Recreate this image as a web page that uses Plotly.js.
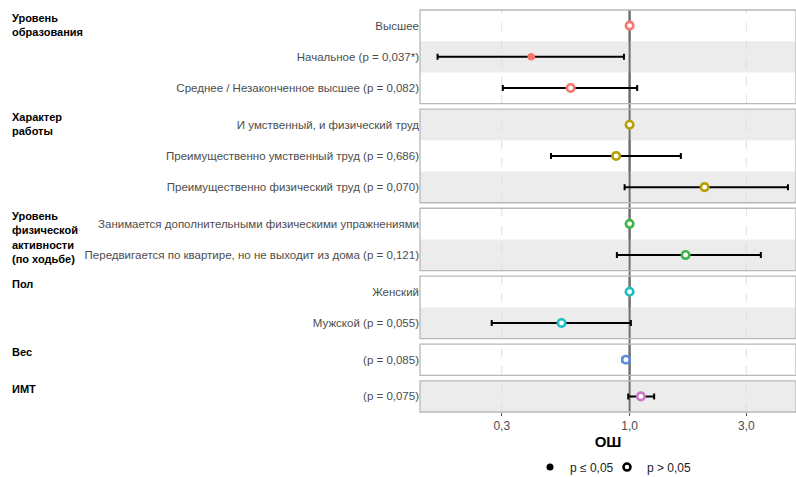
<!DOCTYPE html>
<html><head><meta charset="utf-8">
<script src="https://cdn.plot.ly/plotly-3.0.1.min.js"></script>
<style>html,body{margin:0;padding:0;background:#fff}#chart{width:796px;height:477px}</style>
</head><body><div id="chart"></div>
<script>
const groupTitles = ["Уровень<br>образования", "Характер<br>работы", "Уровень<br>физической<br>активности<br>(по ходьбе)", "Пол", "Вес", "ИМТ"];
const groupColors = ["#F8766D", "#B79F00", "#3DB54A", "#1EBFC4", "#5E8FD8", "#C77CC4"];
const rowGroup = [0, 0, 0, 1, 1, 1, 2, 2, 3, 3, 4, 5];
const rowLabels = [
  "Высшее",
  "Начальное (p = 0,037*)",
  "Среднее / Незаконченное высшее (p = 0,082)",
  "И умственный, и физический труд",
  "Преимущественно умственный труд (p = 0,686)",
  "Преимущественно физический труд (p = 0,070)",
  "Занимается дополнительными физическими упражнениями",
  "Передвигается по квартире, но не выходит из дома (p = 0,121)",
  "Женский",
  "Мужской (p = 0,055)",
  "(p = 0,085)",
  "(p = 0,075)"
];
const oddsRatio = [1, 0.396, 0.574, 1, 0.881, 2.026, 1, 1.694, 1, 0.527, 0.966, 1.112];
const ciLower   = [null, 0.164, 0.303, null, 0.477, 0.954, null, 0.887, null, 0.273, 0.935, 0.987];
const ciUpper   = [null, 0.948, 1.074, null, 1.62, 4.44, null, 3.44, null, 1.012, 0.995, 1.26];
const pValues   = [null, 0.037, 0.082, null, 0.686, 0.070, null, 0.121, null, 0.055, 0.085, 0.075];
const xTickVals = [0.3, 1, 3];
const xTickText = ["0,3", "1,0", "3,0"];
const legendLabels = ["p ≤ 0,05", "p > 0,05"];
const xAxisTitle = "ОШ";

const FONT = "Liberation Sans, Arial, sans-serif";
const nGroups = groupTitles.length;
const plotHpx = 402, gapPx = 5.5;
const gapFrac = gapPx / plotHpx;
const rowFrac = (1 - (nGroups - 1) * gapFrac) / rowGroup.length;

const legendBase = {orientation: "h", xanchor: "left", y: -0.137, yanchor: "middle",
  font: {size: 12, color: "#222"}, bgcolor: "rgba(0,0,0,0)"};

const layout = {
  width: 796, height: 477,
  margin: {l: 420, r: 0, t: 10, b: 65, autoexpand: false},
  paper_bgcolor: "#fff", plot_bgcolor: "rgba(0,0,0,0)",
  font: {family: FONT, size: 11, color: "#4d4d4d"},
  showlegend: true,
  legend: Object.assign({}, legendBase, {x: (530 - 420) / 376}),
  legend2: Object.assign({}, legendBase, {x: (607 - 420) / 376}),
  xaxis: {
    type: "log", range: [Math.log10(0.139), Math.log10(4.79)], anchor: "y6",
    tickmode: "array", tickvals: xTickVals, ticktext: xTickText,
    showgrid: false, zeroline: false, showline: false,
    ticks: "outside", ticklen: 3, tickcolor: "#555", tickwidth: 1,
    tickfont: {size: 12, color: "#4d4d4d"},
    title: {text: "<b>" + xAxisTitle + "</b>", font: {size: 15, color: "#000"}, standoff: 4},
    fixedrange: true
  },
  shapes: [], annotations: []
};

const traces = [];
let domTop = 1;
let globalRow = 0;
for (let g = 0; g < nGroups; g++) {
  const idx = [];
  rowGroup.forEach((gg, i) => { if (gg === g) idx.push(i); });
  const n = idx.length;
  const dom = [Math.max(0, domTop - n * rowFrac), domTop];
  domTop -= n * rowFrac + gapFrac;
  const axName = g === 0 ? "yaxis" : "yaxis" + (g + 1);
  const yref = g === 0 ? "y" : "y" + (g + 1);
  layout[axName] = {
    domain: dom, anchor: "x", range: [n - 0.5, -0.5],
    tickmode: "array", tickvals: idx.map((_, k) => k), ticktext: idx.map(i => rowLabels[i]),
    showgrid: false, zeroline: false, showline: false, ticks: "",
    tickfont: {size: 11.5, color: "#4d4d4d"}, fixedrange: true
  };
  idx.forEach((i, k) => {
    if ((globalRow + k) % 2 === 1) {
      layout.shapes.push({type: "rect", xref: "x domain", x0: 0, x1: 1, yref: yref,
        y0: k - 0.5, y1: k + 0.5, fillcolor: "#EBECEB", line: {width: 0}, layer: "below"});
    }
  });
  globalRow += n;
  xTickVals.forEach(v => {
    if (v !== 1) {
      layout.shapes.push({type: "line", xref: "x", x0: v, x1: v, yref: yref + " domain", y0: 0, y1: 1,
        line: {color: "#dedede", width: 1, dash: "dash"}, layer: "below"});
    }
  });
  layout.shapes.push({type: "line", xref: "x", x0: 1, x1: 1, yref: yref + " domain", y0: 0, y1: 1,
    line: {color: "#707070", width: 2}, layer: "below"});
  layout.shapes.push({type: "rect", xref: "x domain", x0: 0, x1: 1, yref: yref + " domain", y0: 0, y1: 1,
    line: {color: "#b8b8b8", width: 1.3}, fillcolor: "rgba(0,0,0,0)", layer: "above"});
  layout.annotations.push({text: "<b>" + groupTitles[g] + "</b>", xref: "paper", x: (10 - 420) / 376,
    xanchor: "left", yref: yref + " domain", y: 1, yanchor: "top", align: "left", showarrow: false,
    font: {size: 11, color: "#000", family: FONT}});
  const sig = idx.map(i => pValues[i] !== null && pValues[i] <= 0.05);
  traces.push({
    type: "scatter", mode: "markers", xaxis: "x", yaxis: yref, showlegend: false,
    x: idx.map(i => oddsRatio[i]), y: idx.map((_, k) => k),
    error_x: {type: "data", symmetric: false,
      array: idx.map(i => ciUpper[i] === null ? NaN : ciUpper[i] - oddsRatio[i]),
      arrayminus: idx.map(i => ciLower[i] === null ? NaN : oddsRatio[i] - ciLower[i]),
      color: "#000", thickness: 2, width: 3},
    marker: {symbol: "circle", size: 7.5,
      color: sig.map(s => s ? groupColors[g] : "#fff"),
      line: {color: groupColors[g], width: sig.map(s => s ? 0 : 2.6)}},
    hoverinfo: "skip"
  });
}
layout.shapes.unshift({type: "line", xref: "x", x0: 1, x1: 1, yref: "paper", y0: 0, y1: 1,
  line: {color: "#707070", width: 2}, layer: "below"});

traces.push({type: "scatter", mode: "markers", x: [null], y: [null], xaxis: "x", yaxis: "y6",
  legend: "legend", name: legendLabels[0], marker: {symbol: "circle", size: 7, color: "#000"}});
traces.push({type: "scatter", mode: "markers", x: [null], y: [null], xaxis: "x", yaxis: "y6",
  legend: "legend2", name: legendLabels[1],
  marker: {symbol: "circle", size: 7, color: "#fff", line: {color: "#000", width: 2.6}}});

Plotly.newPlot("chart", traces, layout, {displayModeBar: false, staticPlot: true});
</script>
</body></html>
